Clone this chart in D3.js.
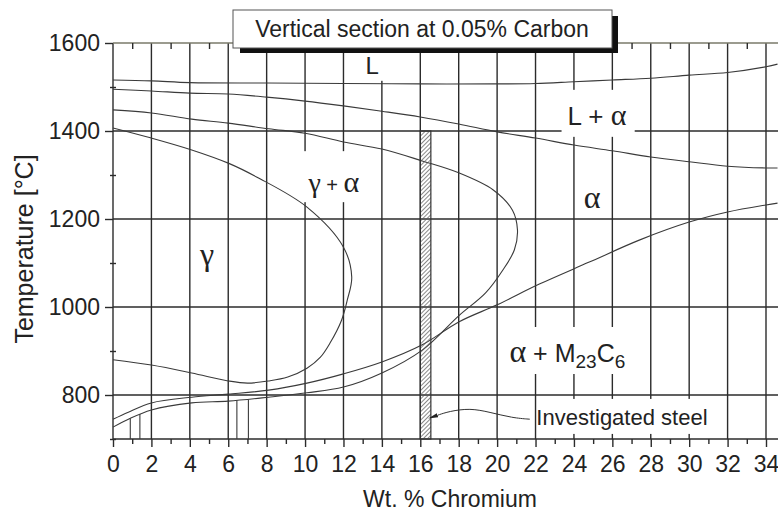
<!DOCTYPE html>
<html>
<head>
<meta charset="utf-8">
<script src="https://cdnjs.cloudflare.com/ajax/libs/d3/7.8.5/d3.min.js"></script>
<style>
  body { margin: 0; background: #fff; }
  #chart { width: 778px; height: 512px; }
  text { font-family: "Liberation Sans", Arial, sans-serif; fill: #222; }
  .greek { font-family: "Liberation Serif", "Times New Roman", serif; }
</style>
</head>
<body>
<div id="chart"></div>
<script>
// tick values
const xMajor = d3.range(0, 35, 2);
const xMinor = d3.range(1, 35, 2);
const yMajor = [800, 1000, 1200, 1400, 1600];
const yMinor = [700, 900, 1100, 1300, 1500];

// phase boundaries (wt.% Cr, temperature °C)
const liqW = [0, 2, 4, 8, 12, 16, 20, 22, 24, 26, 28, 30, 32, 34, 34.6];
const liqT = [1516, 1514, 1510, 1509, 1508, 1507, 1507, 1508, 1512, 1516, 1520, 1527, 1533, 1546, 1552];

const solW = [0, 2, 4, 6, 8, 10, 12, 14, 16, 18, 20, 22, 24, 26, 28, 30, 32, 34, 34.6];
const solT = [1495, 1491, 1486, 1484, 1477, 1468, 1457, 1445, 1432, 1416, 1398, 1384, 1368, 1355, 1341, 1330, 1320, 1316, 1316];

// outer loop (gamma+alpha / alpha)
const outerW = [0, 2, 4.1, 6, 8.1, 10, 12, 14, 16.1, 18, 19.8, 20.8, 21.06, 20.9, 20.3, 19.4, 18, 16.1, 14, 12, 10.1, 8.1, 6, 4.1, 2, 0.8, 0];
const outerT = [1448, 1441, 1427, 1418, 1405, 1395, 1375, 1359, 1332, 1305, 1266, 1220, 1175, 1130, 1084, 1032, 980, 902, 850, 818, 805, 795, 786, 782, 766, 745, 727];

// inner loop (gamma / gamma+alpha)
const innerW = [0, 2, 4.1, 6, 7.5, 10.1, 12, 12.43, 12.2, 11.9, 11.3, 10.8, 10.1, 9.1, 8.1, 7, 6, 4.1, 2, 0];
const innerT = [1407, 1384, 1357, 1327, 1295, 1227, 1136, 1068, 1016, 970, 918, 886, 861, 841, 832, 827, 832, 850, 868, 880];

// carbide solvus (alpha / alpha+M23C6)
const carbW = [0, 0.8, 2, 4.1, 6, 8.1, 10.1, 12, 14, 16.1, 18, 20, 22.2, 24.8, 27.4, 30, 32, 34, 34.6];
const carbT = [745, 761, 782, 795, 802, 811, 827, 848, 875, 914, 966, 1005, 1052, 1102, 1152, 1193, 1216, 1232, 1236];

// short vertical boundaries near the bottom
const stubW = [0.9, 1.4, 6.45, 7.05];
const stubT = [747, 757, 788, 790];

// investigated steel band
const steelW = [16.0, 16.55];
const steelT = [700, 1400];

// leader line of the "Investigated steel" note
const noteW = [16.9, 17.5, 18.6, 19.6, 20.8, 21.7];
const noteT = [754, 763, 770, 761, 748, 745];

const width = 778, height = 512;

const svg = d3.select("#chart").append("svg")
    .attr("width", width)
    .attr("height", height);

const x = d3.scaleLinear().domain([0, 34]).range([113, 766]);
const y = d3.scaleLinear().domain([700, 1600]).range([439, 43]);

const defs = svg.append("defs");
defs.append("pattern")
    .attr("id", "hatch")
    .attr("patternUnits", "userSpaceOnUse")
    .attr("width", 3).attr("height", 3)
    .attr("patternTransform", "rotate(45)")
  .append("line")
    .attr("x1", 0).attr("y1", 0).attr("x2", 0).attr("y2", 3)
    .attr("stroke", "#555").attr("stroke-width", 1.4);

defs.append("marker")
    .attr("id", "head")
    .attr("viewBox", "0 0 10 6")
    .attr("refX", 0).attr("refY", 3)
    .attr("markerWidth", 10).attr("markerHeight", 6)
    .attr("markerUnits", "userSpaceOnUse")
    .attr("orient", "auto-start-reverse")
  .append("path")
    .attr("d", "M10,3 L0,0.8 L0,5.2 Z")
    .attr("fill", "#222");

/* grid */
const grid = svg.append("g").attr("stroke", "#2b2b2b").attr("stroke-width", 1.4);

grid.selectAll(".vg").data(xMajor).enter().append("line")
    .attr("x1", d => x(d)).attr("x2", d => x(d))
    .attr("y1", y(1600)).attr("y2", y(700));

grid.selectAll(".hg").data([700].concat(yMajor)).enter().append("line")
    .attr("x1", x(0)).attr("x2", width)
    .attr("y1", d => y(d)).attr("y2", d => y(d))
    .attr("stroke", d => d === 1600 ? "#7a7a6a" : "#2b2b2b");

/* white backing behind region labels */
const backs = svg.append("g");
const fronts = svg.append("g");

function regionLabel(w, t, anchor, parts, pad) {
    const txt = fronts.append("text")
        .attr("x", x(w)).attr("y", y(t))
        .attr("text-anchor", anchor);
    parts.forEach(function(p) {
        const s = txt.append("tspan").text(p.s).style("font-size", p.size + "px");
        if (p.greek) s.attr("class", "greek");
        if (p.dy) s.attr("dy", p.dy);
    });
    const b = txt.node().getBBox();
    if (pad) {
        backs.append("rect")
            .attr("x", b.x - pad[0]).attr("y", b.y - pad[1])
            .attr("width", b.width + pad[0] + pad[2])
            .attr("height", b.height + pad[1] + pad[3])
            .attr("fill", "#fff");
    }
}

/* curves */
const line = d3.line()
    .x(d => x(d[0])).y(d => y(d[1]))
    .curve(d3.curveCatmullRom.alpha(0.5));

const curves = svg.append("g")
    .attr("fill", "none")
    .attr("stroke", "#3a3a3a")
    .attr("stroke-width", 1.1);

[[liqW, liqT], [solW, solT], [outerW, outerT], [innerW, innerT], [carbW, carbT]].forEach(function(c) {
    curves.append("path").attr("d", line(d3.zip(c[0], c[1])));
});

curves.selectAll(".stub").data(d3.zip(stubW, stubT)).enter().append("line")
    .attr("x1", d => x(d[0])).attr("x2", d => x(d[0]))
    .attr("y1", y(700)).attr("y2", d => y(d[1]));

/* axes */
function styleAxis(g) {
    g.select(".domain").remove();
    g.selectAll(".tick line").attr("stroke", "#2b2b2b").attr("stroke-width", 1.4);
    g.selectAll(".tick text").style("font-size", "23px").attr("fill", "#222");
}

svg.append("g")
    .attr("transform", `translate(0,${y(700)})`)
    .call(d3.axisBottom(x).tickValues(xMajor).tickSize(8).tickPadding(9).tickFormat(d3.format("d")))
    .call(styleAxis);

svg.append("g")
    .attr("transform", `translate(0,${y(700)})`)
    .call(d3.axisBottom(x).tickValues(xMinor).tickSize(5).tickFormat(""))
    .call(styleAxis);

svg.append("g")
    .attr("transform", `translate(0,${y(1600)})`)
    .call(d3.axisBottom(x).tickValues(xMinor).tickSize(6).tickFormat(""))
    .call(styleAxis);

svg.append("g")
    .attr("transform", `translate(${x(0)},0)`)
    .call(d3.axisLeft(y).tickValues(yMajor).tickSize(8).tickPadding(5).tickFormat(d3.format("d")))
    .call(styleAxis);

svg.append("g")
    .attr("transform", `translate(${x(0)},0)`)
    .call(d3.axisLeft(y).tickValues(yMinor).tickSize(3).tickFormat(""))
    .call(styleAxis)
    .selectAll(".tick line").attr("x1", 3);

svg.append("text")
    .attr("x", 450).attr("y", 507)
    .attr("text-anchor", "middle")
    .style("font-size", "23px")
    .text("Wt. % Chromium");

svg.append("text")
    .attr("transform", "translate(33,249) rotate(-90)")
    .attr("text-anchor", "middle")
    .style("font-size", "25px")
    .text("Temperature [°C]");

/* region labels */
regionLabel(13.5, 1530, "middle", [{s: "L", size: 24}], [8, 6, 8, 2]);
regionLabel(25.2, 1414, "middle", [{s: "L + ", size: 26}, {s: "α", size: 30, greek: true}], [6, 8, 8, 6]);
regionLabel(24.95, 1225, "middle", [{s: "α", size: 32, greek: true}], null);
regionLabel(4.9, 1095, "middle", [{s: "γ", size: 32, greek: true}], null);
regionLabel(11.5, 1261, "middle", [{s: "γ", size: 28, greek: true}, {s: " + ", size: 20}, {s: "α", size: 30, greek: true}], [6, 14, 6, 4]);
regionLabel(20.64, 875, "start", [
    {s: "α", size: 32, greek: true},
    {s: " + M", size: 25},
    {s: "23", size: 19, dy: 6},
    {s: "C", size: 25, dy: -6},
    {s: "6", size: 19, dy: 6}
], [-4, 6, 4, 2]);
regionLabel(22.04, 732, "start", [{s: "Investigated steel", size: 22}], [-2, 6, 4, 4]);

/* investigated steel band */
svg.append("rect")
    .attr("x", x(steelW[0])).attr("y", y(steelT[1]))
    .attr("width", x(steelW[1]) - x(steelW[0]))
    .attr("height", y(steelT[0]) - y(steelT[1]))
    .attr("fill", "url(#hatch)")
    .attr("stroke", "#333").attr("stroke-width", 1.2);

const note = d3.line().x(d => x(d[0])).y(d => y(d[1])).curve(d3.curveBasis);
svg.append("path")
    .attr("d", note(d3.zip(noteW, noteT)))
    .attr("fill", "none").attr("stroke", "#333").attr("stroke-width", 1)
    .attr("marker-start", "url(#head)");

/* title box */
svg.append("rect")
    .attr("x", 240).attr("y", 16).attr("width", 378).attr("height", 37)
    .attr("fill", "#111");
svg.append("rect")
    .attr("x", 233).attr("y", 10).attr("width", 379).attr("height", 38)
    .attr("fill", "#fff").attr("stroke", "#555").attr("stroke-width", 1);
svg.append("text")
    .attr("x", 422).attr("y", 37)
    .attr("text-anchor", "middle")
    .style("font-size", "23px")
    .text("Vertical section at 0.05% Carbon");
</script>
</body>
</html>
